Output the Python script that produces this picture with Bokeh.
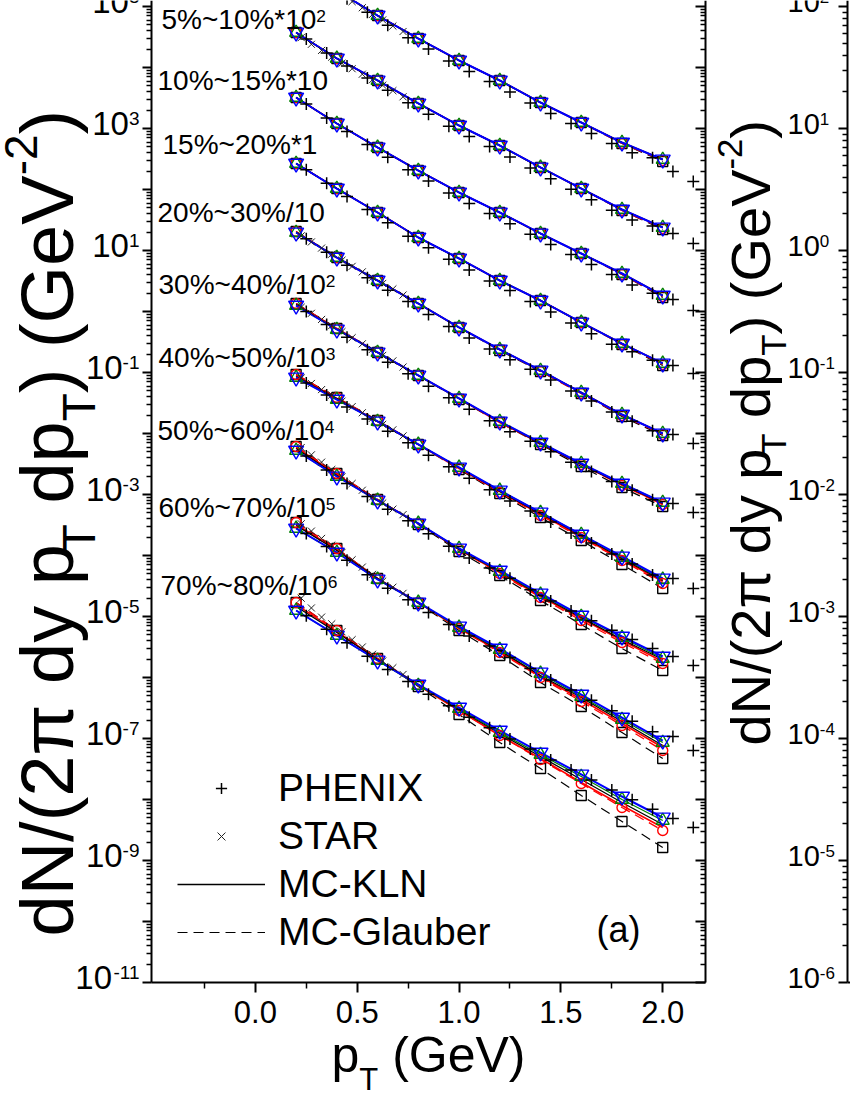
import numpy as np
from bokeh.plotting import figure
from bokeh.models import (Range1d, LogAxis, LinearAxis, LogScale, FixedTicker, Label,
                          Legend, LegendItem, CustomJSTickFormatter, PrintfTickFormatter)
from bokeh.embed import file_html
from bokeh.resources import INLINE

# ---------------------------------------------------------------- data
pt_model = [0.2, 0.4, 0.6, 0.8, 1.0, 1.2, 1.4, 1.6, 1.8, 2.0]
pt_phenix = [0.25, 0.35, 0.45, 0.55, 0.65, 0.75, 0.85, 0.95, 1.05, 1.15,
             1.25, 1.35, 1.45, 1.55, 1.65, 1.75, 1.85, 1.95, 2.05, 2.15]
pt_star = [0.225, 0.275, 0.325, 0.375, 0.425, 0.475, 0.525, 0.575, 0.625, 0.675, 0.725]

centrality = ["0%~5%", "5%~10%", "10%~15%", "15%~20%", "20%~30%", "30%~40%",
              "40%~50%", "50%~60%", "60%~70%", "70%~80%"]
scale_base = ["*10", "*10", "*10", "*1", "/10", "/10", "/10", "/10", "/10", "/10"]
scale_exp = ["3", "2", "", "", "", "2", "3", "4", "5", "6"]

# log10 of the (scaled) yields, one list per centrality class
kln_blue_log = [
    [5.689, 5.262, 4.852, 4.475, 4.115, 3.787, 3.426, 3.098, 2.770, 2.492],
    [4.574, 4.148, 3.787, 3.410, 3.049, 2.721, 2.361, 2.016, 1.672, 1.377],
    [3.508, 3.082, 2.689, 2.311, 1.951, 1.623, 1.279, 0.951, 0.623, 0.262],
    [2.426, 2.016, 1.623, 1.213, 0.869, 0.508, 0.180, -0.180, -0.525, -0.852],
    [1.295, 0.885, 0.508, 0.131, -0.262, -0.623, -0.967, -1.328, -1.689, -2.000],
    [0.098, -0.295, -0.672, -1.049, -1.426, -1.803, -2.148, -2.492, -2.820, -3.131],
    [-1.082, -1.443, -1.803, -2.180, -2.557, -2.934, -3.295, -3.656, -4.016, -4.377],
    [-2.279, -2.705, -3.098, -3.475, -3.885, -4.246, -4.623, -4.984, -5.328, -5.656],
    [-3.557, -3.951, -4.393, -4.770, -5.164, -5.525, -5.918, -6.279, -6.656, -7.033],
    [-4.902, -5.311, -5.721, -6.115, -6.492, -6.869, -7.230, -7.590, -7.951, -8.295],
]
kln_green_log = [
    [5.689, 5.262, 4.852, 4.475, 4.115, 3.787, 3.426, 3.098, 2.770, 2.492],
    [4.574, 4.148, 3.787, 3.410, 3.049, 2.721, 2.361, 2.016, 1.672, 1.377],
    [3.508, 3.082, 2.689, 2.311, 1.951, 1.623, 1.279, 0.951, 0.623, 0.262],
    [2.426, 2.016, 1.623, 1.213, 0.869, 0.508, 0.180, -0.180, -0.525, -0.852],
    [1.295, 0.885, 0.508, 0.131, -0.262, -0.623, -0.967, -1.328, -1.689, -2.000],
    [0.098, -0.295, -0.672, -1.049, -1.426, -1.803, -2.148, -2.492, -2.820, -3.131],
    [-1.082, -1.443, -1.803, -2.180, -2.557, -2.934, -3.295, -3.656, -4.032, -4.393],
    [-2.279, -2.705, -3.098, -3.475, -3.885, -4.262, -4.639, -5.000, -5.344, -5.689],
    [-3.557, -3.951, -4.393, -4.770, -5.180, -5.541, -5.934, -6.312, -6.689, -7.066],
    [-4.902, -5.311, -5.721, -6.131, -6.508, -6.902, -7.263, -7.623, -8.000, -8.344],
]
kln_black_log = [
    [5.689, 5.262, 4.852, 4.475, 4.115, 3.787, 3.426, 3.098, 2.770, 2.492],
    [4.574, 4.148, 3.787, 3.410, 3.049, 2.721, 2.361, 2.016, 1.672, 1.377],
    [3.508, 3.082, 2.689, 2.311, 1.951, 1.623, 1.279, 0.951, 0.623, 0.262],
    [2.426, 2.016, 1.623, 1.213, 0.869, 0.508, 0.180, -0.180, -0.525, -0.852],
    [1.295, 0.885, 0.508, 0.131, -0.262, -0.623, -0.967, -1.328, -1.689, -2.000],
    [0.114, -0.295, -0.672, -1.049, -1.426, -1.803, -2.164, -2.508, -2.836, -3.147],
    [-1.066, -1.427, -1.803, -2.180, -2.557, -2.950, -3.311, -3.672, -4.049, -4.410],
    [-2.246, -2.689, -3.098, -3.475, -3.901, -4.262, -4.656, -5.017, -5.377, -5.705],
    [-3.508, -3.918, -4.377, -4.770, -5.180, -5.558, -5.967, -6.328, -6.722, -7.115],
    [-4.836, -5.262, -5.705, -6.115, -6.525, -6.918, -7.296, -7.672, -8.049, -8.410],
]
kln_red_log = [
    [5.689, 5.262, 4.852, 4.475, 4.115, 3.787, 3.426, 3.098, 2.770, 2.492],
    [4.574, 4.148, 3.787, 3.410, 3.049, 2.721, 2.361, 2.016, 1.672, 1.377],
    [3.508, 3.082, 2.689, 2.311, 1.951, 1.623, 1.279, 0.951, 0.623, 0.262],
    [2.426, 2.016, 1.623, 1.213, 0.869, 0.508, 0.180, -0.180, -0.525, -0.852],
    [1.295, 0.885, 0.508, 0.131, -0.262, -0.623, -0.967, -1.328, -1.689, -2.000],
    [0.114, -0.279, -0.672, -1.049, -1.426, -1.819, -2.164, -2.508, -2.836, -3.164],
    [-1.049, -1.427, -1.803, -2.180, -2.573, -2.950, -3.328, -3.689, -4.065, -4.426],
    [-2.230, -2.672, -3.098, -3.475, -3.901, -4.279, -4.672, -5.033, -5.394, -5.738],
    [-3.491, -3.902, -4.377, -4.770, -5.197, -5.574, -5.984, -6.361, -6.754, -7.148],
    [-4.804, -5.245, -5.705, -6.131, -6.541, -6.951, -7.328, -7.721, -8.099, -8.459],
]
glb_red_log = [
    [5.689, 5.262, 4.852, 4.475, 4.115, 3.787, 3.426, 3.098, 2.754, 2.476],
    [4.574, 4.148, 3.787, 3.410, 3.049, 2.721, 2.361, 2.016, 1.656, 1.361],
    [3.508, 3.082, 2.689, 2.311, 1.951, 1.623, 1.279, 0.951, 0.607, 0.246],
    [2.426, 2.016, 1.623, 1.213, 0.869, 0.508, 0.180, -0.180, -0.541, -0.868],
    [1.311, 0.885, 0.508, 0.131, -0.262, -0.623, -0.983, -1.344, -1.705, -2.016],
    [0.131, -0.279, -0.672, -1.049, -1.426, -1.819, -2.164, -2.508, -2.853, -3.164],
    [-1.033, -1.410, -1.787, -2.180, -2.573, -2.967, -3.344, -3.705, -4.082, -4.459],
    [-2.213, -2.656, -3.082, -3.475, -3.901, -4.295, -4.689, -5.066, -5.426, -5.771],
    [-3.459, -3.885, -4.377, -4.770, -5.197, -5.591, -6.000, -6.394, -6.787, -7.197],
    [-4.771, -5.229, -5.688, -6.115, -6.541, -6.951, -7.345, -7.738, -8.131, -8.508],
]
glb_black_log = [
    [5.689, 5.262, 4.852, 4.475, 4.115, 3.787, 3.426, 3.098, 2.754, 2.459],
    [4.574, 4.148, 3.787, 3.410, 3.049, 2.721, 2.361, 2.016, 1.656, 1.344],
    [3.508, 3.082, 2.689, 2.311, 1.951, 1.623, 1.279, 0.951, 0.607, 0.229],
    [2.426, 2.016, 1.623, 1.213, 0.869, 0.508, 0.180, -0.180, -0.541, -0.885],
    [1.311, 0.885, 0.508, 0.131, -0.262, -0.639, -0.983, -1.344, -1.722, -2.033],
    [0.131, -0.279, -0.672, -1.049, -1.442, -1.819, -2.181, -2.541, -2.886, -3.197],
    [-1.033, -1.410, -1.787, -2.180, -2.590, -2.983, -3.377, -3.754, -4.147, -4.541],
    [-2.213, -2.656, -3.082, -3.491, -3.934, -4.328, -4.738, -5.132, -5.525, -5.886],
    [-3.459, -3.885, -4.377, -4.786, -5.230, -5.640, -6.082, -6.476, -6.902, -7.328],
    [-4.771, -5.229, -5.688, -6.148, -6.607, -7.066, -7.492, -7.934, -8.361, -8.787],
]
phenix_log = [
    [5.582, 5.353, 5.127, 4.906, 4.692, 4.487, 4.303, 4.107, 3.935, 3.771,
     3.599, 3.418, 3.246, 3.082, 2.918, 2.754, 2.602, 2.520, 2.295, 2.131],
    [4.468, 4.239, 4.025, 3.828, 3.627, 3.422, 3.233, 3.037, 2.869, 2.705,
     2.533, 2.353, 2.177, 2.004, 1.832, 1.660, 1.500, 1.400, 1.279, 1.115],
    [3.402, 3.173, 2.951, 2.738, 2.529, 2.323, 2.139, 1.943, 1.771, 1.607,
     1.439, 1.267, 1.099, 0.935, 0.771, 0.607, 0.435, 0.300, 0.197, 0.016],
    [2.324, 2.103, 1.885, 1.672, 1.455, 1.234, 1.045, 0.857, 0.681, 0.500,
     0.344, 0.164, -0.008, -0.188, -0.364, -0.537, -0.660, -0.800, -0.885, -1.016],
    [1.193, 0.972, 0.758, 0.553, 0.348, 0.164, -0.049, -0.246, -0.434, -0.615,
     -0.791, -0.947, -1.123, -1.304, -1.467, -1.648, -1.800, -1.955, -2.016, -2.164],
    [0.000, -0.213, -0.422, -0.627, -0.832, -1.021, -1.225, -1.414, -1.602, -1.791,
     -1.971, -2.128, -2.300, -2.472, -2.623, -2.787, -2.931, -3.086, -3.148, -3.295],
    [-1.172, -1.369, -1.566, -1.762, -1.963, -2.152, -2.356, -2.545, -2.733, -2.922,
     -3.106, -3.271, -3.451, -3.632, -3.795, -3.975, -4.139, -4.320, -4.377, -4.541],
    [-2.370, -2.599, -2.819, -3.033, -3.241, -3.430, -3.644, -3.849, -4.041, -4.205,
     -4.373, -4.562, -4.746, -4.910, -5.070, -5.226, -5.377, -5.525, -5.656, -5.803],
    [-3.640, -3.853, -4.078, -4.316, -4.536, -4.725, -4.935, -5.132, -5.320, -5.484,
     -5.672, -5.853, -6.041, -6.205, -6.373, -6.546, -6.717, -6.890, -6.967, -7.197],
    [-4.988, -5.209, -5.430, -5.652, -5.869, -6.066, -6.275, -6.464, -6.652, -6.824,
     -7.008, -7.173, -7.353, -7.516, -7.680, -7.845, -8.004, -8.160, -8.311, -8.459],
]
star_class = [0, 1, 4, 5, 6, 7, 8, 9]
star_log = [
    [5.61, 5.50, 5.39, 5.29, 5.18, 5.08, 4.98, 4.87, 4.78, 4.68, 4.59],
    [4.49, 4.38, 4.28, 4.17, 4.07, 3.98, 3.89, 3.80, 3.71, 3.62, 3.52],
    [1.24, 1.14, 1.04, 0.94, 0.84, 0.74, 0.65, 0.56, 0.46, 0.37, 0.27],
    [0.07, -0.03, -0.13, -0.23, -0.33, -0.43, -0.53, -0.62, -0.72, -0.81, -0.91],
    [-1.09, -1.18, -1.28, -1.37, -1.47, -1.56, -1.66, -1.75, -1.85, -1.94, -2.04],
    [-2.23, -2.35, -2.47, -2.59, -2.71, -2.82, -2.93, -3.04, -3.14, -3.24, -3.33],
    [-3.48, -3.60, -3.72, -3.83, -3.95, -4.07, -4.19, -4.31, -4.42, -4.52, -4.62],
    [-4.70, -4.86, -5.01, -5.12, -5.25, -5.38, -5.50, -5.62, -5.73, -5.84, -5.95],
]
left_label_exps = [5, 3, 1, -1, -3, -5, -7, -9, -11]
right_label_exps = [2, 1, 0, -1, -2, -3, -4, -5, -6]

# ---------------------------------------------------------------- layout
FONT = "Liberation Sans"
W, H = 850, 1100
# panel (a): x = -0.51 .. 2.21 between pixel columns 151 and 705,
#            y = 1e3 at pixel row 128 and 1e-11 at pixel row 982
X0, X1, PX0, PX1 = -0.51, 2.21, 151, 705
PY_TOP_DEC, PY_BOT_DEC = 128, 982
XS = (X1 - X0) / (PX1 - PX0)
x_start, x_end = X0 - PX0 * XS, X1 + (W - PX1) * XS
DEC_L = (PY_BOT_DEC - PY_TOP_DEC) / 14.0
ly_top = 3 + PY_TOP_DEC / DEC_L
ly_bot = 3 - (H - PY_TOP_DEC) / DEC_L
# panel (b), only its axis visible: 1e1 at row 128, 1e-6 at row 982, spine at column 847
DEC_R = (PY_BOT_DEC - PY_TOP_DEC) / 7.0
ry_top = 1 + PY_TOP_DEC / DEC_R
ry_bot = 1 - (H - PY_TOP_DEC) / DEC_R
x_spine_b = X0 + (847 - PX0) * XS

ARIAL = {' ': 0.278, '.': 0.278, '%': 0.889, '~': 0.584, '*': 0.389, '/': 0.278,
         '(': 0.333, ')': 0.333, '-': 0.333, 'd': 0.556, 'N': 0.722, 'y': 0.5,
         'p': 0.556, 'T': 0.611, 'G': 0.778, 'e': 0.556, 'V': 0.667, 'π': 0.58,
         'a': 0.556}


def tw(s, size):
    return sum(ARIAL.get(c, 0.556) for c in s) * size


def add_text(fig, x, y, text, size, align="left", angle=0.0):
    # x, y: page pixel column / row of the text's start and vertical middle
    fig.add_layout(Label(x=x, y=H - y, x_units="screen", y_units="screen", text=text,
                         angle=angle, text_font=FONT, text_font_size=f"{size:.1f}px",
                         text_align=align, text_baseline="middle",
                         text_color="black"))


def rich(fig, pieces, x, y, size, angle=0.0, sub=0.5, sup=0.3, ratio=0.62):
    """pieces laid out along one line whose middle starts at page pixel (x, y)"""
    pos = 0.0
    for txt, kind in pieces:
        s = size if kind == "n" else size * ratio
        shift = 0.0 if kind == "n" else (-sub * size if kind == "sub" else sup * size)
        lead = tw(txt[:len(txt) - len(txt.lstrip())], s)
        if angle == 0:
            add_text(fig, x + pos + lead, y - shift, txt.strip(), s)
        else:
            add_text(fig, x - shift, y - pos - lead, txt.strip(), s, angle=angle)
        pos += tw(txt, s)


p = figure(width=W, height=H, x_range=Range1d(x_start, x_end),
           y_range=Range1d(10 ** ly_bot, 10 ** ly_top), y_axis_type="log",
           output_backend="svg", toolbar_location=None, min_border=0,
           min_border_left=0, min_border_right=0, min_border_top=0, min_border_bottom=0)
p.extra_y_ranges = {"b": Range1d(10 ** ry_bot, 10 ** ry_top)}
p.extra_y_scales = {"b": LogScale()}
p.outline_line_color = None
p.grid.visible = False
p.background_fill_color = "white"
p.border_fill_color = "white"

log_major = [10.0 ** k for k in range(-11, 6)]
log_minor = [m * 10.0 ** k for k in range(-11, 6) for m in range(2, 10)]
blank = CustomJSTickFormatter(code="return ''")


def style(ax, tin, tout, min_in, min_out):
    ax.axis_line_width = 2
    ax.axis_line_color = "black"
    ax.major_tick_line_width = 2
    ax.minor_tick_line_width = 1.5
    ax.major_tick_line_color = "black"
    ax.minor_tick_line_color = "black"
    ax.major_tick_in, ax.major_tick_out = tin, tout
    ax.minor_tick_in, ax.minor_tick_out = min_in, min_out


xa = p.xaxis[0]
xa.fixed_location = 1e-11
xa.bounds = (X0, X1)
xa.ticker = FixedTicker(ticks=[0, 0.5, 1.0, 1.5, 2.0],
                        minor_ticks=[-0.25, 0.25, 0.75, 1.25, 1.75])
xa.formatter = PrintfTickFormatter(format="%.1f")
xa.major_label_text_font = FONT
xa.major_label_text_font_size = "31px"
xa.major_label_text_color = "black"
xa.major_label_standoff = 8
style(xa, 0, 10, 0, 6)

ya = p.yaxis[0]
ya.fixed_location = X0
ya.bounds = (1e-11, 10 ** ly_top)
ya.ticker = FixedTicker(ticks=log_major, minor_ticks=log_minor)
ya.formatter = blank
style(ya, 0, 9, 0, 5)

ra = LogAxis(ticker=FixedTicker(ticks=log_major, minor_ticks=log_minor), formatter=blank,
             fixed_location=X1, bounds=(1e-11, 10 ** ly_top))
style(ra, 10, 0, 5, 0)
p.add_layout(ra, "right")

ba = LogAxis(y_range_name="b", fixed_location=x_spine_b, bounds=(1e-6, 10 ** ry_top),
             ticker=FixedTicker(ticks=[10.0 ** k for k in range(-6, 3)],
                                minor_ticks=[m * 10.0 ** k for k in range(-6, 3)
                                             for m in range(2, 10)]),
             formatter=blank)
style(ba, 0, 9, 0, 5)
p.add_layout(ba, "left")

bb = LinearAxis(fixed_location=1e-11, bounds=(x_spine_b, x_end),
                ticker=FixedTicker(ticks=[]), formatter=blank)
style(bb, 0, 0, 0, 0)
p.add_layout(bb, "below")

curves = [  # data, colour, dash, width
    (glb_black_log, "black", "10 6", 1.2),
    (glb_red_log, "red", "10 6", 1.3),
    (kln_red_log, "red", "solid", 1.6),
    (kln_black_log, "black", "solid", 1.3),
    (kln_green_log, "green", "solid", 1.3),
    (kln_blue_log, "blue", "solid", 2.0),
]
marks = [  # data, marker, colour, size
    (glb_black_log, "square", "black", 10),
    (glb_red_log, "circle", "red", 10),
    (kln_green_log, "triangle", "green", 13),
    (kln_blue_log, "inverted_triangle", "blue", 15),
]

line_refs = {}
for i in range(len(centrality)):
    for data, col, dash, lw in curves:
        r = p.line(pt_model, 10 ** np.array(data[i]), line_color=col, line_dash=dash,
                   line_width=lw)
        line_refs.setdefault((col, dash), r)
    for data, mk, col, sz in marks:
        p.scatter(pt_model, 10 ** np.array(data[i]), marker=mk, size=sz,
                  line_color=col, fill_color=None, line_width=1.4)

ph_ref = None
for i in range(len(centrality)):
    r = p.scatter(pt_phenix, 10 ** np.array(phenix_log[i]), marker="cross", size=12,
                  line_color="black", line_width=1.5)
    ph_ref = ph_ref or r
st_ref = None
for j, ci in enumerate(star_class):
    r = p.scatter(pt_star, 10 ** np.array(star_log[j]), marker="x", size=10,
                  line_color="#222222", line_width=1.0)
    st_ref = st_ref or r

legend = Legend(items=[
    LegendItem(label="PHENIX", renderers=[ph_ref]),
    LegendItem(label="STAR", renderers=[st_ref]),
    LegendItem(label="MC-KLN", renderers=[line_refs[("black", "solid")]]),
    LegendItem(label="MC-Glauber", renderers=[line_refs[("black", "10 6")]]),
], location=(177, H - 954), orientation="vertical", glyph_width=88,
    glyph_height=28, label_height=28, spacing=4, padding=0, margin=0,
    label_standoff=13, border_line_color=None, background_fill_alpha=0,
    label_text_font=FONT, label_text_font_size="39px", label_text_color="black")
p.add_layout(legend)

# class labels (page positions: left edge, vertical middle of the digits)
label_pos = [None, (161, 19), (157, 80), (162, 144), (157, 212), (158, 284),
             (158, 357), (157, 430), (158, 507), (160, 585)]
for i, pos in enumerate(label_pos):
    if pos is None:
        continue
    pieces = [(centrality[i] + scale_base[i], "n")]
    if scale_exp[i]:
        pieces.append((scale_exp[i], "sup"))
    rich(p, pieces, pos[0], pos[1], 28, sup=0.14)

add_text(p, 596, 929, "(a)", 36)

# decade labels of panel (a): "10" with a raised exponent, right-aligned at column 139
for k in left_label_exps:
    e = str(k)
    p.add_layout(Label(x=139, y=10.0 ** k, x_units="screen", y_units="data", text=e,
                       y_offset=10, text_font=FONT, text_font_size="19px",
                       text_align="right", text_baseline="middle", text_color="black"))
    p.add_layout(Label(x=139 - tw(e, 19), y=10.0 ** k, x_units="screen", y_units="data",
                       text="10", y_offset=5, text_font=FONT, text_font_size="33px",
                       text_align="right", text_baseline="middle", text_color="black"))

# decade labels of panel (b), left-aligned at column 787
for k in right_label_exps:
    e = str(k)
    p.add_layout(Label(x=787, y=10.0 ** k, x_units="screen", y_units="data",
                       y_range_name="b", text="10", y_offset=5, text_font=FONT,
                       text_font_size="29px", text_align="left",
                       text_baseline="middle", text_color="black"))
    p.add_layout(Label(x=787 + tw("10", 29), y=10.0 ** k, x_units="screen",
                       y_units="data", y_range_name="b", text=e, y_offset=10,
                       text_font=FONT, text_font_size="17px", text_align="left",
                       text_baseline="middle", text_color="black"))

ylab = [("dN/(2π dy p", "n"), ("T", "sub"), (" dp", "n"), ("T", "sub"),
        (") (GeV", "n"), ("-2", "sup"), (")", "n")]
rich(p, ylab, 47, 936, 74, angle=np.pi / 2, sub=0.42, sup=0.36)
rich(p, ylab, 750, 745, 56, angle=np.pi / 2, sub=0.42, sup=0.36)
rich(p, [("p", "n"), ("T", "sub"), (" (GeV)", "n")], 331, 1054, 50, sub=0.5)

open("out.html", "w").write(file_html(p, INLINE))
